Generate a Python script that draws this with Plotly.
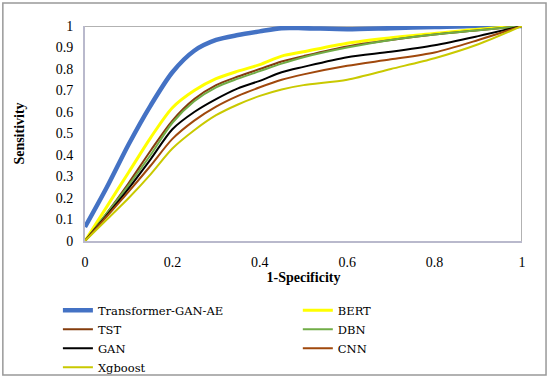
import plotly.graph_objects as go

fpr = [0, 0.05, 0.1, 0.15, 0.2, 0.25, 0.3, 0.35, 0.4, 0.45, 0.5, 0.6, 0.7, 0.8, 0.9, 1.0]

tpr_transformer = [0.065, 0.25, 0.45, 0.63, 0.785, 0.885, 0.935, 0.958, 0.975, 0.99, 0.99, 0.985, 0.99, 0.995, 1.0, 1.0]
tpr_bert = [0, 0.16, 0.32, 0.48, 0.62, 0.70, 0.755, 0.79, 0.82, 0.86, 0.88, 0.92, 0.945, 0.965, 0.985, 1.0]
tpr_tst = [0, 0.13, 0.27, 0.42, 0.56, 0.66, 0.725, 0.765, 0.80, 0.835, 0.86, 0.905, 0.935, 0.96, 0.98, 1.0]
tpr_dbn = [0, 0.13, 0.26, 0.40, 0.55, 0.65, 0.715, 0.755, 0.79, 0.825, 0.855, 0.90, 0.935, 0.96, 0.98, 1.0]
tpr_gan = [0, 0.12, 0.245, 0.38, 0.52, 0.60, 0.66, 0.71, 0.745, 0.785, 0.81, 0.855, 0.88, 0.91, 0.953, 1.0]
tpr_cnn = [0, 0.115, 0.23, 0.35, 0.475, 0.56, 0.625, 0.675, 0.715, 0.75, 0.775, 0.815, 0.845, 0.877, 0.935, 1.0]
tpr_xgb = [0, 0.10, 0.20, 0.31, 0.43, 0.515, 0.585, 0.635, 0.675, 0.705, 0.725, 0.75, 0.80, 0.85, 0.915, 1.0]

# (name, values, color, width, legend column)
series = [
    ("Transformer-GAN-AE", tpr_transformer, "#4472C4", 4.5, "legend"),
    ("BERT", tpr_bert, "#FFFF00", 3, "legend2"),
    ("TST", tpr_tst, "#843C0C", 2, "legend"),
    ("DBN", tpr_dbn, "#70AD47", 2, "legend2"),
    ("GAN", tpr_gan, "#000000", 2, "legend"),
    ("CNN", tpr_cnn, "#A0480C", 2, "legend2"),
    ("Xgboost", tpr_xgb, "#C9C900", 2, "legend"),
]

fig = go.Figure()
for name, y, color, w, lg in series:
    fig.add_trace(go.Scatter(x=fpr, y=y, mode="lines", name=name, legend=lg,
                             line=dict(color=color, width=w, shape="spline", smoothing=0.8)))

serif = "Liberation Serif"
legfont = dict(family="DejaVu Serif", size=11.5, color="black")
fig.update_layout(
    width=550, height=379,
    margin=dict(l=85, r=28, t=26, b=138, autoexpand=False),
    paper_bgcolor="white", plot_bgcolor="white",
    font=dict(family=serif, size=14, color="black"),
    showlegend=True,
    legend=dict(x=-0.062, xanchor="left", y=-0.255, yanchor="top", font=legfont,
                bgcolor="rgba(0,0,0,0)", traceorder="normal", tracegroupgap=0),
    legend2=dict(x=0.487, xanchor="left", y=-0.255, yanchor="top", font=legfont,
                 bgcolor="rgba(0,0,0,0)", traceorder="normal", tracegroupgap=0),
    xaxis=dict(range=[0, 1], tickvals=[0, 0.2, 0.4, 0.6, 0.8, 1], ticktext=["0", "0.2", "0.4", "0.6", "0.8", "1"],
               showgrid=False, zeroline=False, showline=True, linecolor="#B9B9CC", linewidth=2,
               ticks="", ticklabelstandoff=7,
               title=dict(text="<b>1-Specificity</b>", font=dict(family=serif, size=14), standoff=2)),
    yaxis=dict(range=[0, 1], tickvals=[i / 10 for i in range(11)],
               ticktext=["0", "0.1", "0.2", "0.3", "0.4", "0.5", "0.6", "0.7", "0.8", "0.9", "1"],
               showgrid=False, zeroline=False, showline=True, linecolor="#B9B9CC", linewidth=2,
               ticks="", ticklabelstandoff=7,
               title=dict(text="<b>Sensitivity</b>", font=dict(family=serif, size=14), standoff=28)),
    shapes=[
        dict(type="line", xref="x", yref="y", x0=0, x1=1, y0=1, y1=1, line=dict(color="#999999", width=1.5), layer="below"),
        dict(type="line", xref="x", yref="y", x0=1, x1=1, y0=0, y1=1, line=dict(color="#999999", width=1.5), layer="below"),
        dict(type="rect", xref="paper", yref="paper", x0=-0.188, x1=1.055, y0=-0.623, y1=1.107,
             line=dict(color="#999999", width=1.5)),
    ],
)

fig.write_html("out.html", config={"displayModeBar": False},
               post_script="document.body.style.margin='0';document.body.style.overflow='hidden';")
